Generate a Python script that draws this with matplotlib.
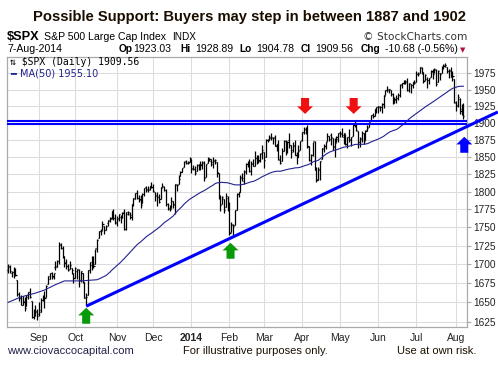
import numpy as np
import pandas as pd
import matplotlib
matplotlib.use('Agg')
import matplotlib.pyplot as plt

# NYSE holidays in the window, so the x axis is in trading days
holidays = ['2013-09-02', '2013-11-28', '2013-12-25', '2014-01-01', '2014-01-20',
            '2014-02-17', '2014-04-18', '2014-05-26', '2014-07-04']
dates = pd.bdate_range('2013-08-08', '2014-08-07', freq='C', holidays=holidays)

# daily OHLC, one line per month (Aug-2013 .. Aug-2014)
opens = [
    1693, 1696, 1688, 1690, 1693, 1679, 1661, 1656, 1646, 1650, 1645, 1659, 1664, 1652, 1631, 1633, 1638,
    1635, 1638, 1653, 1657, 1657, 1674, 1681, 1689, 1685, 1697, 1697, 1705, 1727, 1722, 1711, 1703, 1698, 1694, 1695, 1688,
    1682, 1691, 1693, 1679, 1688, 1677, 1657, 1660, 1692, 1699, 1709, 1700, 1720, 1736, 1745, 1746, 1752, 1747, 1756, 1759, 1763, 1772, 1763,
    1758, 1763, 1765, 1766, 1771, 1748, 1769, 1769, 1764, 1782, 1790, 1798, 1791, 1789, 1784, 1797, 1806, 1803, 1804, 1808,
    1806, 1800, 1794, 1792, 1789, 1806, 1807, 1802, 1782, 1777, 1777, 1786, 1782, 1809, 1810, 1822, 1828, 1835, 1843, 1841, 1842,
    1846, 1833, 1832, 1829, 1838, 1839, 1840, 1841, 1821, 1841, 1847, 1844, 1842, 1845, 1842, 1826, 1792, 1783, 1790, 1778, 1791,
    1783, 1744, 1753, 1753, 1774, 1796, 1800, 1821, 1815, 1828, 1839, 1839, 1829, 1841, 1837, 1848, 1846, 1844, 1855,
    1857, 1850, 1874, 1875, 1878, 1877, 1878, 1866, 1869, 1845, 1843, 1858, 1873, 1860, 1874, 1867, 1859, 1867, 1852, 1850, 1859,
    1874, 1886, 1891, 1890, 1864, 1845, 1852, 1872, 1831, 1818, 1832, 1846, 1861, 1865, 1873, 1880, 1881, 1877, 1866, 1871, 1876,
    1884, 1885, 1879, 1883, 1869, 1878, 1875, 1880, 1896, 1897, 1888, 1871, 1876, 1884, 1874, 1889, 1893, 1902, 1911, 1910, 1920,
    1923, 1923, 1923, 1928, 1942, 1949, 1950, 1949, 1943, 1931, 1934, 1937, 1942, 1958, 1960, 1963, 1962, 1949, 1959, 1957, 1961,
    1962, 1974, 1975, 1984, 1976, 1965, 1966, 1965, 1970, 1978, 1977, 1980, 1961, 1976, 1976, 1984, 1988, 1985, 1979, 1980, 1973, 1966,
    1929, 1926, 1936, 1917, 1923.03]
highs = [
    1700, 1699, 1691, 1696, 1695, 1679, 1663, 1660, 1658, 1657, 1659, 1664, 1669, 1652, 1641, 1646, 1641,
    1651, 1655, 1659, 1665, 1673, 1684, 1689, 1690, 1689, 1705, 1706, 1730, 1729, 1725, 1711, 1707, 1701, 1704, 1695, 1688,
    1696, 1694, 1694, 1691, 1688, 1677, 1662, 1693, 1703, 1711, 1711, 1721, 1734, 1745, 1748, 1759, 1752, 1753, 1760, 1765, 1772, 1776, 1768,
    1766, 1768, 1767, 1771, 1775, 1771, 1773, 1771, 1782, 1791, 1798, 1802, 1795, 1795, 1798, 1805, 1808, 1808, 1808, 1813,
    1810, 1800, 1800, 1796, 1806, 1812, 1808, 1803, 1784, 1781, 1792, 1786, 1811, 1810, 1823, 1829, 1833, 1843, 1845, 1843, 1849,
    1846, 1838, 1837, 1840, 1840, 1843, 1844, 1843, 1839, 1850, 1848, 1847, 1849, 1847, 1842, 1826, 1795, 1794, 1790, 1798, 1793,
    1785, 1758, 1755, 1774, 1798, 1800, 1823, 1826, 1830, 1841, 1843, 1847, 1843, 1847, 1858, 1852, 1853, 1855, 1867,
    1857, 1876, 1876, 1881, 1884, 1878, 1882, 1869, 1875, 1852, 1862, 1874, 1875, 1873, 1884, 1867, 1872, 1875, 1856, 1867, 1873,
    1886, 1893, 1893, 1897, 1866, 1854, 1872, 1873, 1835, 1835, 1844, 1862, 1869, 1872, 1884, 1880, 1885, 1877, 1877, 1880, 1885,
    1888, 1892, 1885, 1883, 1879, 1890, 1879, 1897, 1903, 1898, 1888, 1878, 1887, 1884, 1889, 1896, 1901, 1912, 1914, 1920, 1924,
    1925, 1925, 1929, 1942, 1950, 1955, 1951, 1950, 1944, 1938, 1941, 1944, 1958, 1960, 1964, 1964, 1968, 1960, 1959, 1961, 1964,
    1979, 1977, 1985, 1985, 1977, 1974, 1969, 1968, 1980, 1982, 1984, 1981, 1980, 1976, 1986, 1989, 1991, 1985, 1981, 1985, 1978, 1966,
    1932, 1943, 1937, 1928, 1928.89]
lows = [
    1688, 1689, 1683, 1682, 1684, 1658, 1652, 1646, 1646, 1639, 1645, 1654, 1656, 1630, 1628, 1632, 1627,
    1633, 1637, 1652, 1643, 1657, 1674, 1681, 1681, 1681, 1693, 1697, 1700, 1720, 1708, 1697, 1694, 1691, 1694, 1687, 1675,
    1682, 1680, 1670, 1677, 1675, 1655, 1646, 1660, 1688, 1692, 1695, 1700, 1717, 1735, 1740, 1746, 1741, 1746, 1752, 1758, 1762, 1760, 1755,
    1752, 1759, 1756, 1763, 1746, 1746, 1767, 1761, 1760, 1780, 1789, 1789, 1785, 1777, 1784, 1794, 1800, 1800, 1802, 1805,
    1799, 1787, 1780, 1784, 1789, 1806, 1801, 1780, 1774, 1772, 1777, 1777, 1768, 1801, 1810, 1822, 1828, 1835, 1840, 1839, 1842,
    1827, 1830, 1824, 1829, 1831, 1830, 1832, 1815, 1821, 1841, 1843, 1836, 1833, 1840, 1820, 1790, 1772, 1783, 1770, 1778, 1772,
    1739, 1744, 1738, 1753, 1774, 1792, 1800, 1815, 1810, 1825, 1835, 1828, 1824, 1836, 1837, 1840, 1841, 1842, 1847,
    1834, 1850, 1871, 1874, 1874, 1869, 1866, 1858, 1845, 1839, 1843, 1858, 1853, 1855, 1863, 1848, 1856, 1852, 1840, 1850, 1859,
    1873, 1883, 1883, 1863, 1843, 1838, 1851, 1831, 1814, 1816, 1816, 1846, 1856, 1861, 1873, 1873, 1867, 1860, 1850, 1871, 1872,
    1878, 1879, 1868, 1867, 1863, 1871, 1866, 1880, 1894, 1888, 1862, 1864, 1872, 1868, 1874, 1888, 1893, 1902, 1907, 1910, 1915,
    1914, 1918, 1915, 1922, 1942, 1947, 1945, 1940, 1928, 1929, 1930, 1934, 1939, 1952, 1958, 1958, 1948, 1947, 1944, 1953, 1958,
    1962, 1971, 1975, 1974, 1960, 1965, 1952, 1959, 1969, 1966, 1975, 1955, 1961, 1965, 1975, 1982, 1985, 1975, 1967, 1969, 1963, 1930,
    1917, 1923, 1913, 1911, 1904.78]
closes = [
    1697.5, 1691.4, 1689.5, 1694.2, 1685.4, 1661.3, 1655.8, 1646.1, 1652.4, 1642.8, 1657.0, 1663.5, 1656.8, 1630.5, 1635.0, 1638.2, 1633.0,
    1639.8, 1653.1, 1655.1, 1655.2, 1671.7, 1684.0, 1689.1, 1683.4, 1688.0, 1697.6, 1704.8, 1725.5, 1722.3, 1709.9, 1701.8, 1697.4, 1692.8, 1698.7, 1691.8, 1681.6,
    1695.0, 1693.9, 1678.7, 1690.5, 1676.1, 1655.5, 1656.4, 1692.6, 1703.2, 1710.1, 1698.1, 1721.5, 1733.2, 1744.5, 1744.7, 1754.7, 1746.4, 1752.1, 1759.8, 1762.1, 1772.0, 1763.3, 1756.5,
    1761.6, 1767.9, 1763.0, 1770.5, 1747.2, 1770.6, 1771.9, 1767.7, 1782.0, 1790.6, 1798.2, 1791.5, 1787.9, 1781.4, 1795.9, 1804.8, 1802.5, 1802.8, 1807.2, 1805.8,
    1800.9, 1795.2, 1792.8, 1785.0, 1805.1, 1808.4, 1802.6, 1782.2, 1775.5, 1775.3, 1786.5, 1781.0, 1810.7, 1809.6, 1818.3, 1828.0, 1833.3, 1842.0, 1841.4, 1841.1, 1848.4,
    1832.0, 1831.4, 1826.8, 1837.9, 1837.5, 1838.1, 1842.4, 1819.2, 1838.9, 1848.4, 1845.9, 1838.7, 1843.8, 1844.9, 1828.5, 1790.3, 1781.6, 1792.5, 1774.2, 1794.2, 1782.6,
    1741.9, 1755.2, 1751.6, 1773.4, 1797.0, 1799.8, 1819.3, 1819.3, 1829.8, 1838.6, 1840.8, 1828.8, 1839.8, 1836.3, 1847.6, 1845.1, 1845.2, 1854.3, 1859.5,
    1845.7, 1873.9, 1873.8, 1877.0, 1878.0, 1877.2, 1867.6, 1868.2, 1846.3, 1841.1, 1858.8, 1872.3, 1860.8, 1872.0, 1866.5, 1857.4, 1865.6, 1852.6, 1849.0, 1857.6, 1872.3,
    1885.5, 1890.9, 1888.8, 1865.1, 1845.0, 1852.0, 1872.2, 1833.1, 1815.7, 1830.6, 1843.0, 1862.3, 1864.9, 1871.9, 1879.6, 1875.4, 1878.6, 1863.4, 1869.4, 1878.3, 1884.0,
    1883.7, 1881.1, 1884.7, 1867.7, 1878.2, 1875.6, 1878.5, 1896.7, 1897.5, 1888.5, 1870.9, 1877.9, 1885.1, 1872.8, 1888.0, 1892.5, 1900.5, 1911.9, 1909.8, 1920.0, 1923.6,
    1925.0, 1924.2, 1927.9, 1940.5, 1949.4, 1951.3, 1950.8, 1943.9, 1930.1, 1936.2, 1937.8, 1942.0, 1957.0, 1959.5, 1962.9, 1962.6, 1950.0, 1959.5, 1957.2, 1961.0, 1960.2,
    1973.3, 1974.6, 1985.4, 1977.7, 1963.7, 1972.8, 1964.7, 1967.6, 1977.1, 1973.3, 1981.6, 1958.1, 1978.2, 1973.6, 1983.5, 1987.0, 1988.0, 1978.3, 1978.9, 1970.0, 1970.1, 1930.7,
    1925.2, 1939.0, 1920.2, 1920.2, 1909.56]

# MA(50) before 50 bars of history exist on the chart
ma_early_dates = ['2013-08-08', '2013-08-19', '2013-08-29', '2013-09-06', '2013-09-16', '2013-09-23', '2013-10-04']
ma_early_vals = [1650, 1657, 1662, 1666, 1673, 1678, 1678]

# drawn-in support levels and trendline
support_levels = [1903, 1898.5]
trend_idx = [43, 270]          # trading-day index (starts at the Oct-9 low, runs off the right edge)
trend_vals = [1645, 1916]

# arrow markers: (date index, price at tip)
red_arrows = [(163.7, 1913), (190.5, 1913)]
green_arrows = [(43, 1643), (122.6, 1729)]
blue_arrows = [(251.5, 1879)]

yticks = list(range(1625, 2000, 25))

n = len(dates)
assert len(opens) == n and len(highs) == n and len(lows) == n and len(closes) == n
x = np.arange(n)
idx_of = {d: i for i, d in enumerate(dates)}

W, H = 498, 365
fig = plt.figure(figsize=(W / 100, H / 100), dpi=100)
fig.patch.set_facecolor('white')

def fx(px):
    return px / W

def fy(py):
    return 1 - py / H

ax = fig.add_axes([fx(7), fy(327.3), (467 - 7) / W, (327.3 - 57.3) / H])
ax.set_yscale('log')
ax.set_xlim(-0.66, 253.0)
ax.set_ylim(1618, 2000)

# grid
ax.set_axisbelow(True)
ax.grid(True, color='#dcdcdc', lw=0.75)
for s in ax.spines.values():
    s.set_color('#a9a9a9')
    s.set_linewidth(0.9)

# y axis on the right
ax.yaxis.tick_right()
ax.yaxis.set_minor_locator(matplotlib.ticker.NullLocator())
ax.set_yticks(yticks)
ax.set_yticklabels([str(v) for v in yticks])
ax.tick_params(axis='y', which='major', length=3, width=0.8, color='#a9a9a9', pad=1.5,
               labelsize=7.3, labelcolor='#222222')
for t in ax.get_yticklabels():
    t.set_family('Liberation Sans')

# x axis: first trading day of each month
month_idx = []
month_lab = []
for i, d in enumerate(dates):
    if i > 0 and d.month != dates[i - 1].month:
        month_idx.append(i)
        month_lab.append(str(d.year) if d.month == 1 else d.strftime('%b'))
ax.set_xticks(month_idx)
ax.set_xticklabels(month_lab)
ax.tick_params(axis='x', length=0, pad=4, labelsize=7.5, labelcolor='#222222')
for t in ax.get_xticklabels():
    t.set_family('Liberation Sans')
    if t.get_text().isdigit():
        t.set_fontweight('bold')

# OHLC bars
ax.vlines(x, lows, highs, color='black', lw=0.9, zorder=3)
ax.hlines(opens, x - 0.6, x, color='black', lw=0.9, zorder=3)
ax.hlines(closes, x, x + 0.6, color='black', lw=0.9, zorder=3)

# MA(50)
ma = pd.Series(closes).rolling(50).mean()
ma_x = [idx_of[pd.Timestamp(d)] for d in ma_early_dates] + list(x[49:])
ma_y = list(ma_early_vals) + list(ma.values[49:])
ax.plot(ma_x, ma_y, color='#22228f', lw=0.8, zorder=4)

# support lines and trendline
for lvl in support_levels:
    ax.axhline(lvl, color='#0000ff', lw=1.5, zorder=5)
ax.plot(trend_idx, trend_vals, color='#0000ff', lw=2.2, zorder=5, clip_on=False,
        solid_capstyle='butt')

def arrow(xi, price, color, down):
    off = 11.5 if down else -11.5
    ax.annotate('', xy=(xi, price), xytext=(0, off), textcoords='offset points',
                annotation_clip=False,
                arrowprops=dict(arrowstyle='simple,head_length=0.55,head_width=1.15,tail_width=0.58',
                                mutation_scale=10, color=color, shrinkA=0, shrinkB=0,
                                lw=0, clip_on=False), zorder=6)

for xi, p in red_arrows:
    arrow(xi, p, '#f01010', True)
for xi, p in green_arrows:
    arrow(xi, p, '#089a08', False)
for xi, p in blue_arrows:
    arrow(xi, p, '#0000ff', False)

# legend text in the chart
fig.text(fx(10), fy(62), '\u21c5 $SPX (Daily) 1909.56', fontsize=7, va='center',
         family=['DejaVu Sans Mono', 'DejaVu Sans'], color='black')
fig.text(fx(10), fy(73), '\u2501', fontsize=7, va='center', family=['DejaVu Sans Mono', 'DejaVu Sans'],
         color='#22228f')
fig.text(fx(19.5), fy(73), 'MA(50) 1955.10', fontsize=7, va='center', family='DejaVu Sans',
         color='#22228f')

# title and header
fig.text(0.5, fy(16.5), 'Possible Support: Buyers may step in between 1887 and 1902',
         ha='center', va='center', fontsize=10.6, fontweight='bold', family='Liberation Sans',
         color='#1a0d00')
fig.text(fx(7), fy(36.5), '$SPX', fontsize=9.2, fontweight='bold', family='Liberation Sans', va='center')
fig.text(fx(44.3), fy(36.5), 'S&P 500 Large Cap Index', fontsize=7.6, family='Liberation Sans', va='center')
fig.text(fx(172), fy(36.5), 'INDX', fontsize=7.2, family='Liberation Sans', va='center')
fig.text(fx(467), fy(36.5), '\u00a9 StockCharts.com', fontsize=7.6, family='DejaVu Sans', va='center',
         ha='right', color='#333333')

fig.text(fx(7), fy(49.5), '7-Aug-2014', fontsize=7.6, family='Liberation Sans', va='center')
hdr = [('Op', 118.3, '1923.03', 133.5), ('Hi', 180.7, '1928.89', 195.0),
       ('Lo', 239.3, '1904.78', 256.7), ('Cl', 301.0, '1909.56', 315.7),
       ('Chg', 360.7, '-10.68 (-0.56%)', 385.0)]
for lab, lx, val, vx in hdr:
    fig.text(fx(lx), fy(49.5), lab, fontsize=7.3, fontweight='bold', family='Liberation Sans', va='center')
    fig.text(fx(vx), fy(49.5), val, fontsize=7.6, family='Liberation Sans', va='center')
fig.text(fx(459.5), fy(50.5), '\u25bc', fontsize=5, family='DejaVu Sans', va='center', color='#b0103a')

# footer
fig.text(fx(7), fy(351), 'www.ciovaccocapital.com', fontsize=8, family='Liberation Sans', va='center',
         color='#22224a')
fig.text(fx(183), fy(351), 'For illustrative purposes only.', fontsize=8, family='Liberation Sans',
         va='center', color='#1a1000')
fig.text(fx(397), fy(351), 'Use at own risk.', fontsize=8, family='Liberation Sans', va='center',
         color='#1a1000')

fig.savefig('out.png', dpi=100)
